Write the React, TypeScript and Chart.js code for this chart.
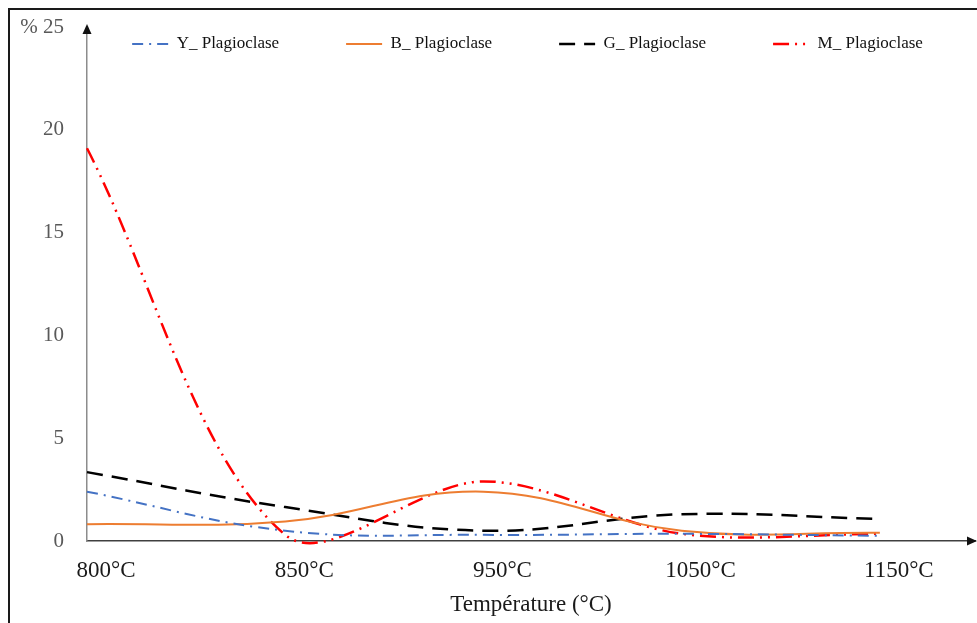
import React, { useEffect, useRef } from 'react';
import { Chart, registerables } from 'chart.js';

Chart.register(...registerables);

const CATEGORIES = ['800°C', '850°C', '950°C', '1050°C', '1150°C'];
const Y_PLAGIOCLASE = [2.4, 0.5, 0.3, 0.35, 0.25];
const B_PLAGIOCLASE = [0.82, 0.95, 2.4, 0.5, 0.4];
const G_PLAGIOCLASE = [3.35, 1.65, 0.5, 1.3, 1.07];
const M_PLAGIOCLASE = [19.1, 0.3, 2.9, 0.35, 0.35];
const Y_TICKS = [0, 5, 10, 15, 20, 25];
const SERIES_NAMES = ['Y_ Plagioclase', 'B_ Plagioclase', 'G_ Plagioclase', 'M_ Plagioclase'];
const X_TITLE = 'Température (°C)';
const Y_UNIT = '%';

const SERIF = "'Liberation Serif', 'Times New Roman', serif";
const LEGEND_FONT = 17;
const LEGEND_PAD = 67;
const LEGEND_CENTER_Y = 34;
const LEGEND_SHIFT = 35;
const TRANSPARENT = 'rgba(0,0,0,0)';

const toPoints = (arr: number[]) => arr.map((v, i) => ({ x: i, y: v }));

const legendPlacer = {
  id: 'legendPlacer',
  afterLayout(chart: any) {
    const lg = chart.legend;
    if (!lg) return;
    const top = LEGEND_CENTER_Y - LEGEND_PAD - LEGEND_FONT / 2;
    lg.top = top;
    lg.bottom = top + 200;
    lg.left += LEGEND_SHIFT;
    lg.right += LEGEND_SHIFT;
  },
};

const axisArrows = {
  id: 'axisArrows',
  afterDraw(chart: any) {
    const { ctx, chartArea } = chart;
    const { left, top, right, bottom } = chartArea;
    ctx.save();
    ctx.fillStyle = '#111';
    ctx.beginPath();
    ctx.moveTo(left, top - 3);
    ctx.lineTo(left - 4.5, top + 7);
    ctx.lineTo(left + 4.5, top + 7);
    ctx.closePath();
    ctx.fill();
    ctx.beginPath();
    ctx.moveTo(right + 2, bottom);
    ctx.lineTo(right - 8, bottom - 4.5);
    ctx.lineTo(right - 8, bottom + 4.5);
    ctx.closePath();
    ctx.fill();
    ctx.restore();
  },
};

export default function App() {
  const ref = useRef<HTMLCanvasElement>(null);

  useEffect(() => {
    if (!ref.current) return;
    const common = {
      pointRadius: 0,
      backgroundColor: TRANSPARENT,
      fill: false,
      clip: false as any,
      tension: 0.4,
    };
    const chart = new Chart(ref.current, {
      type: 'line',
      data: {
        datasets: [
          {
            ...common,
            label: SERIES_NAMES[0],
            data: toPoints(Y_PLAGIOCLASE),
            borderColor: '#4472C4',
            borderWidth: 2,
            borderDash: [11, 6, 2, 6],
          },
          {
            ...common,
            label: SERIES_NAMES[1],
            data: toPoints(B_PLAGIOCLASE),
            borderColor: '#ED7D31',
            borderWidth: 2,
          },
          {
            ...common,
            label: SERIES_NAMES[2],
            data: toPoints(G_PLAGIOCLASE),
            borderColor: '#000000',
            borderWidth: 2.5,
            borderDash: [16, 9],
          },
          {
            ...common,
            tension: 0.33,
            label: SERIES_NAMES[3],
            data: toPoints(M_PLAGIOCLASE),
            borderColor: '#FF0000',
            borderWidth: 2.5,
            borderDash: [16, 6, 2, 6, 2, 6],
          },
        ] as any,
      },
      options: {
        responsive: false,
        animation: false,
        layout: { padding: { top: 16, right: 2, bottom: 0, left: 0 } },
        elements: { line: { capBezierPoints: false } },
        plugins: {
          legend: {
            position: 'top',
            maxHeight: 1,
            labels: {
              usePointStyle: true,
              pointStyle: 'line',
              pointStyleWidth: 36,
              padding: LEGEND_PAD,
              color: '#111',
              font: { family: SERIF, size: LEGEND_FONT },
              generateLabels: (c: any) => {
                const items = Chart.defaults.plugins.legend.labels.generateLabels(c);
                return items.map((it: any) => {
                  const ds: any = c.data.datasets[it.datasetIndex];
                  return {
                    ...it,
                    pointStyle: 'line',
                    strokeStyle: ds.borderColor,
                    fillStyle: TRANSPARENT,
                    lineWidth: ds.borderWidth,
                    lineDash: ds.borderDash || [],
                  };
                });
              },
            },
          } as any,
          tooltip: { enabled: false },
        },
        scales: {
          x: {
            type: 'linear',
            min: 0,
            max: 4.48,
            grid: { display: false, drawTicks: false },
            border: { display: true, color: '#404040', width: 1.5 },
            afterBuildTicks: (s: any) => {
              s.ticks = CATEGORIES.map((_, i) => ({ value: i }));
            },
            afterFit: (s: any) => {
              s.height = 82;
            },
            ticks: {
              padding: 16,
              labelOffset: 19,
              autoSkip: false,
              maxRotation: 0,
              color: '#1a1a1a',
              font: { family: SERIF, size: 23 },
              callback: (v: any) => CATEGORIES[v as number] ?? '',
            },
            title: {
              display: true,
              text: X_TITLE,
              color: '#1a1a1a',
              font: { family: SERIF, size: 23 },
              padding: { top: 0, bottom: 4 },
            },
          },
          y: {
            min: 0,
            max: 25,
            grid: {
              display: true,
              drawOnChartArea: false,
              drawTicks: true,
              tickLength: 23,
              color: TRANSPARENT,
              tickColor: TRANSPARENT,
            },
            border: { display: true, color: '#8c8c8c', width: 1.5 },
            afterBuildTicks: (s: any) => {
              s.ticks = Y_TICKS.map((v) => ({ value: v }));
            },
            afterFit: (s: any) => {
              s.width = 77;
            },
            ticks: {
              padding: 0,
              color: '#595959',
              font: { family: SERIF, size: 21 },
              callback: (v: any) => (v === 25 ? `${Y_UNIT} 25` : String(v)),
            },
          },
        },
      } as any,
      plugins: [legendPlacer, axisArrows],
    });
    return () => chart.destroy();
  }, []);

  return (
    <div
      style={{
        position: 'fixed',
        left: 8,
        top: 8,
        width: 969,
        height: 615,
        boxSizing: 'border-box',
        borderTop: '2px solid #1a1a1a',
        borderLeft: '2px solid #1a1a1a',
        background: '#fff',
      }}
    >
      <canvas ref={ref} width={967} height={613} style={{ display: 'block' }} />
    </div>
  );
}
